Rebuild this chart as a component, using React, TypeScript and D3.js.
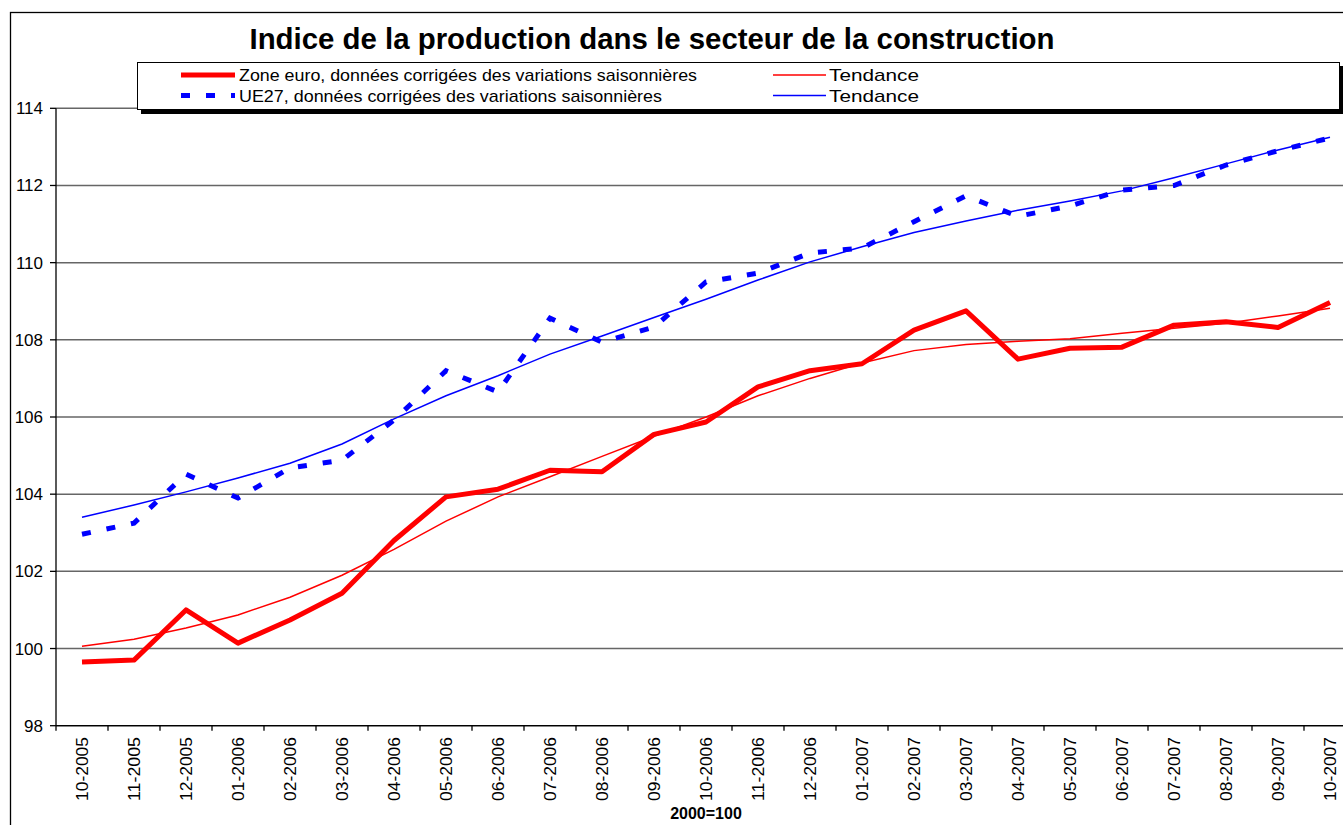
import React from "react";
import * as d3 from "d3";

const categories = ["10-2005","11-2005","12-2005","01-2006","02-2006","03-2006","04-2006","05-2006","06-2006","07-2006","08-2006","09-2006","10-2006","11-2006","12-2006","01-2007","02-2007","03-2007","04-2007","05-2007","06-2007","07-2007","08-2007","09-2007","10-2007"];
const euroValues = [99.65, 99.70, 101.0, 100.14, 100.74, 101.43, 102.8, 103.93, 104.13, 104.62, 104.58, 105.55, 105.87, 106.78, 107.2, 107.38, 108.25, 108.75, 107.5, 107.78, 107.81, 108.38, 108.47, 108.32, 108.97];
const euroTrend = [100.06, 100.24, 100.53, 100.87, 101.33, 101.9, 102.57, 103.3, 103.93, 104.45, 104.98, 105.5, 106.0, 106.55, 107.0, 107.4, 107.72, 107.88, 107.96, 108.03, 108.17, 108.3, 108.43, 108.62, 108.82];
const ueValues = [102.96, 103.25, 104.52, 103.9, 104.68, 104.88, 105.92, 107.2, 106.65, 108.56, 107.94, 108.33, 109.5, 109.73, 110.25, 110.38, 111.06, 111.73, 111.2, 111.47, 111.88, 112.0, 112.53, 112.9, 113.23];
const ueTrend = [103.4, 103.72, 104.06, 104.42, 104.8, 105.3, 105.95, 106.55, 107.07, 107.63, 108.1, 108.58, 109.05, 109.55, 110.02, 110.41, 110.78, 111.08, 111.36, 111.6, 111.86, 112.2, 112.56, 112.92, 113.25];
const yTicks = [98, 100, 102, 104, 106, 108, 110, 112, 114];

const title = "Indice de la production dans le secteur de la construction";
const legendEuro = "Zone euro, données corrigées des variations saisonnières";
const legendUe = "UE27, données corrigées des variations saisonnières";
const legendTrend = "Tendance";
const xAxisTitle = "2000=100";

const FONT = "'Liberation Sans', Arial, sans-serif";

export default function App() {
  const W = 1343, H = 825;
  const left = 56, right = 1356, top = 108.3, bottom = 725.7;
  const x = d3.scaleBand<string>().domain(categories).range([left, right]).padding(0);
  const y = d3.scaleLinear().domain([98, 114]).range([bottom, top]);
  const cx = (c: string) => (x(c) as number) + x.bandwidth() / 2;
  const line = d3.line<number>().x((_, i) => cx(categories[i])).y((v) => y(v));

  return (
    <div style={{ position: "fixed", left: 0, top: 0 }}>
      <svg width={W} height={H} style={{ display: "block", background: "#fff" }} fontFamily={FONT}>
        <rect x={10.5} y={12.5} width={1400} height={900} fill="#fff" stroke="#000" strokeWidth={1.3} />
        <text x={652} y={49} textAnchor="middle" fontSize={29} fontWeight="bold" textLength={805} lengthAdjust="spacingAndGlyphs">{title}</text>

        {/* gridlines */}
        {yTicks.map((t) => (
          <line key={"g" + t} x1={left} x2={right} y1={y(t)} y2={y(t)} stroke="#666" strokeWidth={1.5} />
        ))}
        {/* y axis */}
        <line x1={left} x2={left} y1={top} y2={bottom} stroke="#000" strokeWidth={1.3} />
        {yTicks.map((t) => (
          <g key={"yt" + t}>
            <line x1={left - 6} x2={left} y1={y(t)} y2={y(t)} stroke="#000" strokeWidth={1.3} />
            <text x={43} y={y(t) + 6} textAnchor="end" fontSize={17}>{t}</text>
          </g>
        ))}
        {/* x axis */}
        <line x1={left} x2={right} y1={bottom} y2={bottom} stroke="#000" strokeWidth={1.3} />
        {categories.map((c) => (
          <line key={"xt" + c} x1={x(c) as number} x2={x(c) as number} y1={bottom} y2={bottom + 5} stroke="#000" strokeWidth={1.3} />
        ))}
        {categories.map((c) => (
          <text key={"xl" + c} transform={`translate(${cx(c) + 6},${737}) rotate(-90)`} textAnchor="end" fontSize={17} textLength={64} lengthAdjust="spacingAndGlyphs">{c}</text>
        ))}
        <text x={(left + right) / 2} y={819} textAnchor="middle" fontSize={16} fontWeight="bold">{xAxisTitle}</text>

        {/* series */}
        <path d={line(euroTrend) || ""} fill="none" stroke="#ff0000" strokeWidth={1.5} />
        <path d={line(ueTrend) || ""} fill="none" stroke="#0000ff" strokeWidth={1.5} />
        <path d={line(euroValues) || ""} fill="none" stroke="#ff0000" strokeWidth={5} strokeLinejoin="round" />
        <path d={line(ueValues) || ""} fill="none" stroke="#0000ff" strokeWidth={5} strokeDasharray="9,16" />

        {/* legend */}
        <rect x={141} y={66} width={1202} height={48} fill="#000" />
        <rect x={137.5} y={62.5} width={1202} height={47} fill="#fff" stroke="#000" strokeWidth={1} />
        <line x1={181} x2={235} y1={75} y2={75} stroke="#ff0000" strokeWidth={5} />
        <text x={239} y={81} fontSize={17} textLength={458} lengthAdjust="spacingAndGlyphs">{legendEuro}</text>
        <line x1={181} x2={235} y1={95.5} y2={95.5} stroke="#0000ff" strokeWidth={5} strokeDasharray="9,16" />
        <text x={239} y={101.5} fontSize={17} textLength={423} lengthAdjust="spacingAndGlyphs">{legendUe}</text>
        <line x1={773} x2={826} y1={75} y2={75} stroke="#ff0000" strokeWidth={1.5} />
        <text x={829} y={81} fontSize={17} textLength={90} lengthAdjust="spacingAndGlyphs">{legendTrend}</text>
        <line x1={773} x2={826} y1={95.5} y2={95.5} stroke="#0000ff" strokeWidth={1.5} />
        <text x={829} y={101.5} fontSize={17} textLength={90} lengthAdjust="spacingAndGlyphs">{legendTrend}</text>
      </svg>
    </div>
  );
}
